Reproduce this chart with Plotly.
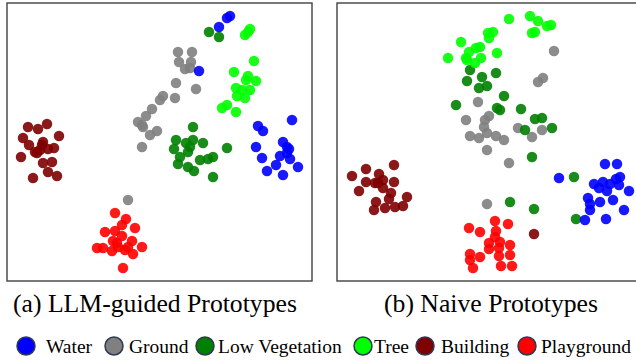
import plotly.graph_objects as go

W, H = 636, 360

CLASSES = ["Water", "Ground", "Low Vegetation", "Tree", "Building", "Playground"]
COLORS = ["#0000FF", "#808080", "#008000", "#00FF00", "#800000", "#FF0000"]
SERIF = "'Liberation Serif', 'Times New Roman', Times, 'DejaVu Serif', serif"

# ---- Panel (a) LLM-guided Prototypes : 2-D embedding coordinates ----
A_WATER_X = [230, 227, 219, 199, 258, 263, 292, 256, 262, 283, 287, 289, 280, 290, 276, 267, 283, 298, 287]
A_WATER_Y = [16, 18, 27, 71, 126, 131, 120, 147, 158, 142, 147, 149, 156, 159, 165, 171, 175, 167, 153]
A_GROUND_X = [178, 192, 179, 191, 185, 190, 176, 196, 163, 160, 175, 152, 146, 138, 142, 143, 157, 150, 142, 128]
A_GROUND_Y = [52, 52, 62, 62, 69, 68, 83, 89, 96, 100, 98, 109, 116, 122, 125, 127, 131, 135, 147, 200]
A_LOWVEG_X = [209, 219, 193, 176, 193, 203, 186, 190, 174, 188, 180, 200, 208, 213, 227, 178, 188, 194, 213]
A_LOWVEG_Y = [32, 37, 127, 140, 140, 143, 143, 147, 149, 152, 157, 160, 159, 157, 148, 164, 167, 171, 177]
A_TREE_X = [250, 248, 245, 254, 234, 248, 246, 256, 236, 242, 250, 237, 245, 227, 222, 236]
A_TREE_Y = [29, 32, 35, 61, 72, 76, 80, 81, 88, 90, 90, 96, 98, 105, 108, 112]
A_BUILD_X = [28, 38, 47, 59, 23, 29, 43, 42, 35, 40, 48, 54, 37, 21, 43, 52, 48, 57, 33]
A_BUILD_Y = [127, 129, 124, 136, 138, 145, 142, 145, 152, 150, 149, 148, 153, 157, 163, 162, 172, 176, 178]
A_PLAY_X = [115, 126, 122, 135, 105, 115, 122, 117, 113, 132, 128, 97, 103, 112, 118, 125, 142, 133, 123]
A_PLAY_Y = [213, 219, 225, 228, 232, 231, 236, 243, 241, 241, 247, 248, 248, 251, 247, 250, 247, 254, 268]

# ---- Panel (b) Naive Prototypes ----
B_WATER_X = [605, 617, 559, 594, 603, 610, 616, 620, 619, 599, 607, 629, 588, 600, 613, 590, 590, 624, 585, 606]
B_WATER_Y = [164, 164, 178, 184, 182, 184, 179, 177, 185, 188, 191, 191, 198, 202, 200, 204, 210, 210, 220, 219]
B_GROUND_X = [554, 543, 538, 478, 466, 489, 485, 484, 518, 542, 532, 470, 479, 487, 496, 504, 487, 509, 487]
B_GROUND_Y = [51, 78, 82, 102, 120, 116, 120, 127, 128, 130, 137, 136, 138, 133, 136, 140, 150, 163, 204]
B_LOWVEG_X = [470, 496, 467, 482, 479, 487, 504, 456, 497, 500, 521, 535, 542, 525, 552, 532, 574, 510, 534, 576]
B_LOWVEG_Y = [70, 73, 81, 77, 88, 86, 96, 105, 108, 110, 109, 119, 118, 130, 128, 157, 177, 202, 209, 219]
B_TREE_X = [509, 530, 538, 535, 532, 547, 551, 493, 488, 489, 461, 480, 476, 497, 469, 448, 466, 467, 481, 475]
B_TREE_Y = [19, 16, 21, 32, 33, 26, 25, 32, 33, 38, 42, 47, 48, 53, 52, 58, 58, 60, 58, 63]
B_BUILD_X = [394, 366, 352, 379, 366, 375, 383, 394, 359, 383, 391, 407, 389, 376, 374, 385, 395, 403, 378, 534]
B_BUILD_Y = [165, 169, 176, 174, 182, 183, 180, 182, 191, 188, 193, 197, 199, 202, 210, 208, 207, 206, 183, 234]
B_PLAY_X = [495, 508, 469, 480, 496, 495, 489, 500, 510, 489, 499, 470, 480, 499, 510, 470, 501, 512, 473]
B_PLAY_Y = [221, 224, 228, 232, 231, 237, 243, 242, 245, 249, 248, 254, 257, 256, 255, 260, 266, 266, 268]

CAPTIONS = ["(a) LLM-guided Prototypes", "(b) Naive Prototypes"]

PANEL_A = [(A_WATER_X, A_WATER_Y), (A_GROUND_X, A_GROUND_Y), (A_LOWVEG_X, A_LOWVEG_Y),
           (A_TREE_X, A_TREE_Y), (A_BUILD_X, A_BUILD_Y), (A_PLAY_X, A_PLAY_Y)]
PANEL_B = [(B_WATER_X, B_WATER_Y), (B_GROUND_X, B_GROUND_Y), (B_LOWVEG_X, B_LOWVEG_Y),
           (B_TREE_X, B_TREE_Y), (B_BUILD_X, B_BUILD_Y), (B_PLAY_X, B_PLAY_Y)]

DRAW_ORDER = [1, 2, 0, 3, 4, 5]

fig = go.Figure()

for panel, (xa, ya) in ((PANEL_A, ("x", "y")), (PANEL_B, ("x2", "y2"))):
    for i in DRAW_ORDER:
        xs, ys = panel[i]
        fig.add_trace(go.Scatter(
            x=xs, y=ys, mode="markers", xaxis=xa, yaxis=ya, cliponaxis=False,
            marker=dict(size=10.5, color=COLORS[i], opacity=0.9, line=dict(width=0)),
            name=CLASSES[i], showlegend=False, hoverinfo="skip"))

def px(v):
    return v / W

def py(v):
    return 1 - v / H

# panel frames in pixel space
a_box = (7, 3, 312, 281)
b_box = (337, 3, 636, 281)

ax_common = dict(visible=False, showgrid=False, zeroline=False, fixedrange=True)
fig.update_layout(
    xaxis=dict(domain=[px(a_box[0]), px(a_box[2])], range=[a_box[0], a_box[2]], **ax_common),
    yaxis=dict(domain=[py(a_box[3]), py(a_box[1])], range=[a_box[3], a_box[1]], **ax_common),
    xaxis2=dict(domain=[px(b_box[0]), px(b_box[2])], range=[b_box[0], b_box[2]], **ax_common),
    yaxis2=dict(domain=[py(b_box[3]), py(b_box[1])], range=[b_box[3], b_box[1]], **ax_common),
)

shapes = []
for (x0, y0, x1, y1), extra in ((a_box, 0), (b_box, 6)):
    shapes.append(dict(type="rect", xref="paper", yref="paper",
                       x0=px(x0), x1=px(x1 + extra), y0=py(y1), y1=py(y0),
                       line=dict(color="#4d4d4d", width=1.5), fillcolor="rgba(0,0,0,0)",
                       layer="above"))

# legend circles and labels
LEG_CIRCLE_X = [26, 114, 205, 363, 425, 527]
LEG_TEXT_X = [44, 127, 216, 372, 439, 539]
LEG_Y = 346
R = 9
annotations = []
for i in range(len(CLASSES)):
    cx = LEG_CIRCLE_X[i]
    shapes.append(dict(type="circle", xref="paper", yref="paper",
                       x0=px(cx - R), x1=px(cx + R), y0=py(LEG_Y + R), y1=py(LEG_Y - R),
                       fillcolor=COLORS[i], line=dict(color="#2c3a55", width=1.5)))
    annotations.append(dict(xref="paper", yref="paper", x=px(LEG_TEXT_X[i]), y=py(LEG_Y),
                            xanchor="left", yanchor="middle", showarrow=False,
                            text=CLASSES[i],
                            font=dict(family=SERIF, size=19.5, color="black")))

CAP_X = [155, 491]
for i, c in enumerate(CAPTIONS):
    annotations.append(dict(xref="paper", yref="paper", x=px(CAP_X[i]), y=py(303),
                            xanchor="center", yanchor="middle", showarrow=False, text=c,
                            font=dict(family=SERIF, size=25.7, color="black")))

fig.update_layout(
    width=W, height=H, margin=dict(l=0, r=0, t=0, b=0),
    paper_bgcolor="white", plot_bgcolor="white",
    font=dict(family=SERIF),
    shapes=shapes, annotations=annotations, showlegend=False,
)

fig.write_html("out.html", config={"displayModeBar": False},
               post_script="document.body.style.margin='0';document.body.style.overflow='hidden';")
